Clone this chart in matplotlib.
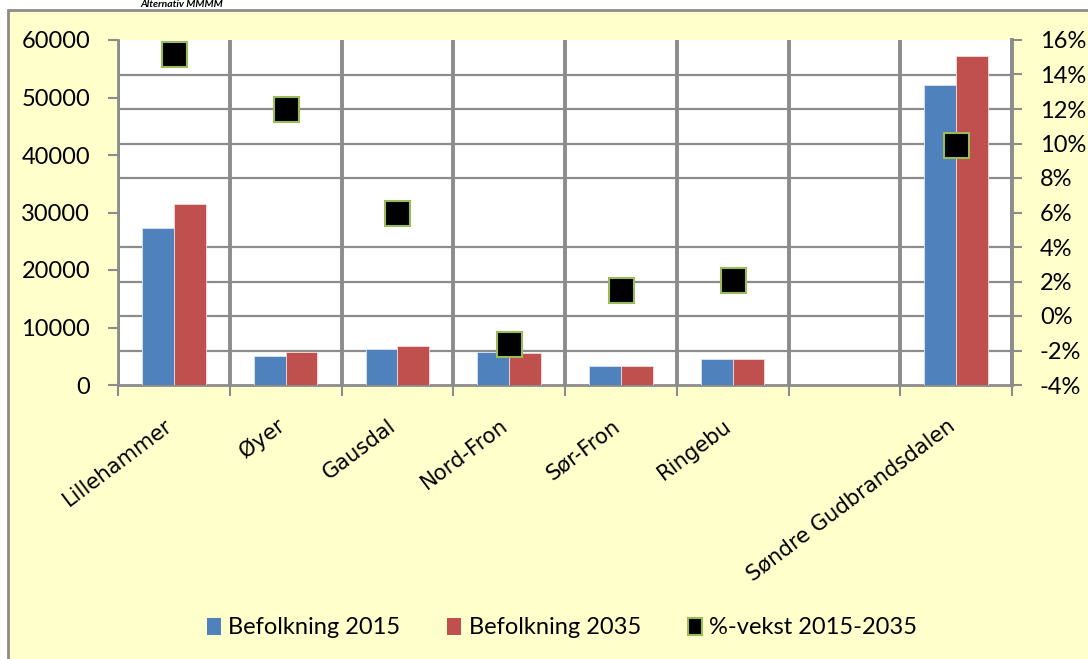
import numpy as np
import matplotlib.pyplot as plt
from matplotlib.patches import Rectangle
from matplotlib.ticker import MultipleLocator, FuncFormatter

# data
kommuner = ['Lillehammer', 'Øyer', 'Gausdal', 'Nord-Fron', 'Sør-Fron', 'Ringebu', '',
            'Søndre Gudbrandsdalen']
bef_2015 = [27300, 5100, 6300, 5800, 3300, 4550, np.nan, 52100]
bef_2035 = [31400, 5700, 6700, 5650, 3300, 4600, np.nan, 57200]
vekst = [15.2, 12.0, 6.0, -1.6, 1.5, 2.1, np.nan, 9.9]

blue = '#4F81BD'
red = '#C0504D'
green = '#9BBB59'
grid_col = '#8C8C8C'
bg_col = '#FFFFCC'
tick_font = 'Lato'

fig = plt.figure(figsize=(10.88, 6.59), dpi=100)
fig.patch.set_facecolor('white')

# yellow chart area with grey frame
frame = Rectangle((8 / 1088, -0.05), 1.1, 1 - 10 / 659 + 0.05, transform=fig.transFigure,
                  facecolor=bg_col, edgecolor=grid_col, linewidth=2, zorder=-10)
fig.patches.append(frame)

# title, mostly outside the picture in the reference
fig.text(140 / 1088, 1 - 9 / 659, 'Alternativ MMMM', fontsize=7.5, fontweight='bold',
         fontstyle='italic', family=tick_font, va='bottom')

ax = fig.add_axes([118 / 1088, 1 - 385 / 659, (1012 - 118) / 1088, 345 / 659])
ax.set_facecolor('white')

n = len(kommuner)
x = np.arange(n) + 0.5
w = 0.285
ax.bar(x - w / 2, bef_2015, w, color=blue, edgecolor='#DCE6F2', linewidth=0.6,
       label='Befolkning 2015', zorder=3)
ax.bar(x + w / 2, bef_2035, w, color=red, edgecolor='#F2DCDB', linewidth=0.6,
       label='Befolkning 2035', zorder=3)

ax.set_xlim(0, n)
ax.set_ylim(0, 60000)
ax.yaxis.set_major_locator(MultipleLocator(10000))
ax.yaxis.set_minor_locator(MultipleLocator(6000))
ax.set_xticks(x)
ax.set_xticklabels(kommuner, rotation=37, ha='right', va='baseline', rotation_mode='anchor',
                   fontsize=15.2, family='DejaVu Sans')
ax.set_xticks(np.arange(n + 1), minor=True)
ax.tick_params(axis='x', which='major', length=0, pad=31)
ax.tick_params(axis='x', which='minor', length=8, width=1.5, color=grid_col)
ax.tick_params(axis='y', which='major', length=7, width=1.5, color=grid_col, pad=13,
               labelsize=17)
ax.tick_params(axis='y', which='minor', length=0)
for lab in ax.get_yticklabels():
    lab.set_family(tick_font)
ax.grid(which='minor', axis='y', color=grid_col, linewidth=1.6, zorder=0)
ax.grid(which='minor', axis='x', color=grid_col, linewidth=2.8, zorder=0)
ax.set_axisbelow(True)
for s in ['top', 'right']:
    ax.spines[s].set_visible(False)
for s in ['left', 'bottom']:
    ax.spines[s].set_color(grid_col)
    ax.spines[s].set_linewidth(2)

ax2 = ax.twinx()
ax2.plot(x, np.array(vekst) / 100, linestyle='none', marker='s', markersize=18,
         markerfacecolor='black', markeredgecolor=green, markeredgewidth=1.5, zorder=5)
ax2.set_ylim(-0.04, 0.16)
ax2.yaxis.set_major_locator(MultipleLocator(0.02))
ax2.yaxis.set_major_formatter(FuncFormatter(lambda v, p: f'{round(v * 100):d}%'))
ax2.tick_params(axis='y', length=7, width=1.5, color=grid_col, pad=13, labelsize=17)
for lab in ax2.get_yticklabels():
    lab.set_family(tick_font)
for s in ['top', 'left', 'bottom']:
    ax2.spines[s].set_visible(False)
ax2.spines['right'].set_color(grid_col)
ax2.spines['right'].set_linewidth(2.8)

handles = [Rectangle((0, 0), 1, 1, facecolor=blue),
           Rectangle((0, 0), 1, 1, facecolor=red),
           Rectangle((0, 0), 1, 1, facecolor='black', edgecolor=green, linewidth=1.5)]
labels = ['Befolkning 2015', 'Befolkning 2035', '%-vekst 2015-2035']
fig.legend(handles, labels, loc='center', bbox_to_anchor=(562 / 1088, 1 - 628 / 659),
           ncol=3, frameon=False, prop={'family': tick_font, 'size': 17},
           handlelength=0.6, handleheight=0.7, handletextpad=0.3, columnspacing=2.0)

fig.savefig('out.png', dpi=100)
